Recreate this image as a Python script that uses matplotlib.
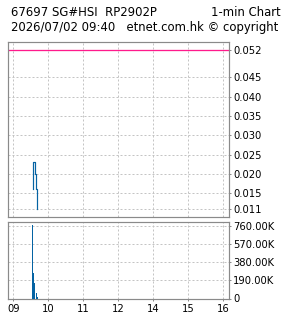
import matplotlib
matplotlib.use("Agg")
import matplotlib.pyplot as plt
import numpy as np

# chart data (x in minutes after 09:00)
x_ticks = [0, 1, 2, 3, 4, 5, 6]
x_labels = ["09", "10", "11", "12", "14", "15", "16"]

price_min = [33.4, 33.4, 36.9, 38.6, 40.3]
price = [0.016, 0.023, 0.020, 0.016, 0.011]
ref_level = 0.052
price_ticks = [0.052, 0.045, 0.040, 0.035, 0.030, 0.025, 0.020, 0.015, 0.011]
price_labels = ["0.052", "0.045", "0.040", "0.035", "0.030", "0.025", "0.020", "0.015", "0.011"]

vol_min = [33.4, 35.1, 36.9, 39.8, 41.5]
volume = [765000, 263000, 165000, 61000, 19000]
vol_ticks = [0, 190000, 380000, 570000, 760000]
vol_labels = ["0", "190.00K", "380.00K", "570.00K", "760.00K"]

title_1 = "67697 SG#HSI  RP2902P"
title_r = "1-min Chart"
title_2 = "2026/07/02 09:40   etnet.com.hk \u00a9 copyright"

plt.rcParams["font.family"] = "DejaVu Sans"
plt.rcParams["lines.scale_dashes"] = False

W, H = 285, 318
fig = plt.figure(figsize=(W / 100, H / 100), dpi=100)

def box(x0, y0, x1, y1):
    return [x0 / W, 1 - y1 / H, (x1 - x0) / W, (y1 - y0) / H]

spine_c = "#8a8a8a"
grid_c = "#c4c4c4"
blue = "#0563a3"
pink = "#ff1a8c"
fs = 7.2
title_fs = 8.4
px = 0.72  # one pixel in points

ax1 = fig.add_axes(box(8, 42.3, 229.3, 216.5))
ax2 = fig.add_axes(box(8, 221.5, 229.3, 298.5))

xlim = (-0.151, 6.171)

for ax in (ax1, ax2):
    ax.set_xlim(*xlim)
    for s in ax.spines.values():
        s.set_color(spine_c)
        s.set_linewidth(1.2 * px)
    ax.yaxis.tick_right()
    ax.tick_params(axis="y", which="both", length=2 * px, width=px, color=spine_c,
                   pad=2 * px, labelsize=fs, colors="black")
    ax.tick_params(axis="y", color=spine_c)
    ax.set_xticks(x_ticks)
    for xt in x_ticks:
        ax.axvline(xt, color=grid_c, lw=px, ls=(0, (2 * px, 2 * px)), zorder=0)

# price panel
ax1.set_ylim(0.00898, 0.05407)
ax1.set_yticks(price_ticks)
ax1.set_yticklabels(price_labels)
for yt in price_ticks:
    ax1.axhline(yt, color=grid_c, lw=px, ls=(0, (2 * px, 2 * px)), zorder=0)
ax1.axhline(ref_level, color=pink, lw=1.3 * px, zorder=2)
ax1.step(np.array(price_min) / 60, price, where="post", color=blue, lw=1.2 * px, zorder=3)
ax1.tick_params(axis="x", length=0, labelbottom=False)

# volume panel
ax2.set_ylim(0, 804000)
ax2.set_yticks(vol_ticks)
ax2.set_yticklabels(vol_labels)
for yt in vol_ticks[1:]:
    ax2.axhline(yt, color=grid_c, lw=px, ls=(0, (2 * px, 2 * px)), zorder=0)
ax2.bar(np.array(vol_min) / 60, volume, width=1.6 / 60, color=blue, zorder=3)
ax2.set_xticklabels(x_labels)
ax2.tick_params(axis="x", length=2 * px, width=px, color=spine_c, pad=3 * px,
                labelsize=fs, colors="black")
ax2.tick_params(axis="x", color=spine_c)

fig.text(11 / W, 1 - 12.5 / H, title_1, fontsize=title_fs, va="center", ha="left")
fig.text(281 / W, 1 - 12.5 / H, title_r, fontsize=title_fs, va="center", ha="right")
fig.text(11 / W, 1 - 27.5 / H, title_2, fontsize=title_fs, va="center", ha="left")

fig.savefig("out.png", dpi=100)
